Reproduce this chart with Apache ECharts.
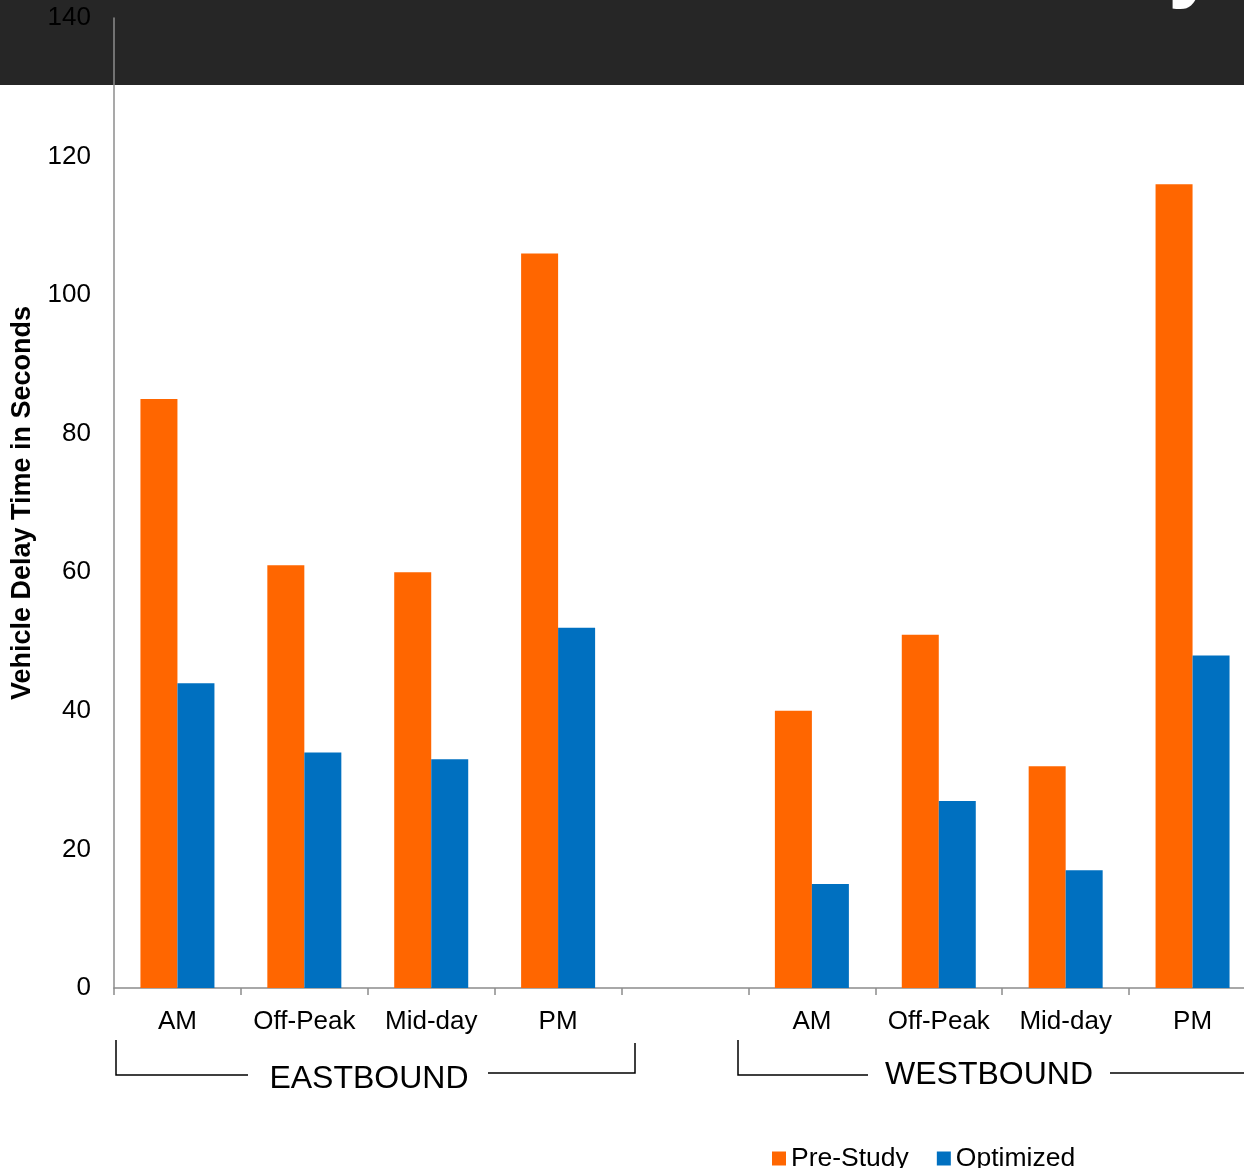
<!DOCTYPE html>
<html>
<head>
<meta charset="utf-8">
<script src="https://cdn.jsdelivr.net/npm/echarts@6/dist/echarts.min.js"></script>
<style>
  html, body { margin: 0; padding: 0; background: #ffffff; }
  #chart { width: 1244px; height: 1168px; }
</style>
</head>
<body>
<div id="chart"></div>
<script>
// Time-of-day periods, eastbound then westbound, with an empty spacer slot between
const periods = ['AM', 'Off-Peak', 'Mid-day', 'PM', '', 'AM', 'Off-Peak', 'Mid-day', 'PM'];
const preStudy = [85, 61, 60, 106, null, 40, 51, 32, 116];
const optimized = [44, 34, 33, 52, null, 15, 27, 17, 48];
const seriesNames = ['Pre-Study', 'Optimized'];
const directions = ['EASTBOUND', 'WESTBOUND'];

const FONT = '"Liberation Sans", Arial, sans-serif';
const chart = echarts.init(document.getElementById('chart'), null, { renderer: 'canvas' });

const bracket = { stroke: '#000000', lineWidth: 1.5 };

chart.setOption({
  animation: false,
  backgroundColor: '#ffffff',
  textStyle: { fontFamily: FONT },
  grid: { left: 114, top: 18, width: 1142, height: 970, containLabel: false, outerBoundsMode: 'none' },
  legend: {
    data: seriesNames,
    left: 767,
    top: 1140,
    itemWidth: 14,
    itemHeight: 14,
    itemGap: 28,
    icon: 'rect',
    textStyle: { fontFamily: FONT, fontSize: 26.5, color: '#000000' }
  },
  xAxis: {
    type: 'category',
    data: periods,
    axisLine: { lineStyle: { color: '#8c8c8c', width: 1.5 } },
    axisTick: { show: true, length: 7, lineStyle: { color: '#8c8c8c', width: 1.5 } },
    axisLabel: { fontFamily: FONT, fontSize: 26, color: '#000000', margin: 21, interval: 0 },
    splitLine: { show: false }
  },
  yAxis: {
    type: 'value',
    min: 0,
    max: 140,
    interval: 20,
    name: 'Vehicle Delay Time in Seconds',
    nameLocation: 'middle',
    nameGap: 78,
    nameTextStyle: { fontFamily: FONT, fontSize: 27, fontWeight: 'bold', color: '#000000' },
    axisLine: { show: true, lineStyle: { color: '#8c8c8c', width: 1.5 } },
    axisTick: { show: false },
    axisLabel: { fontFamily: FONT, fontSize: 26, color: '#000000', margin: 23 },
    splitLine: { show: false }
  },
  series: [
    {
      name: seriesNames[0],
      type: 'bar',
      data: preStudy,
      barWidth: 37,
      barGap: '0%',
      itemStyle: { color: '#ff6600' }
    },
    {
      name: seriesNames[1],
      type: 'bar',
      data: optimized,
      barWidth: 37,
      barGap: '0%',
      itemStyle: { color: '#0070c0' }
    }
  ],
  graphic: [
    // dark header band
    { type: 'rect', z: -10, shape: { x: 0, y: 0, width: 1244, height: 85 }, style: { fill: '#262626' } },
    // descender of the header title glyph
    { type: 'text', z: -5, left: 1168, top: -80, style: { text: 'y', fill: '#ffffff', font: 'bold 90px "Liberation Sans", Arial, sans-serif' } },
    // eastbound bracket
    { type: 'polyline', shape: { points: [[116, 1040], [116, 1075], [248, 1075]] }, style: Object.assign({ fill: null }, bracket) },
    { type: 'polyline', shape: { points: [[488, 1073], [635, 1073], [635, 1043]] }, style: Object.assign({ fill: null }, bracket) },
    { type: 'text', x: 369, y: 1079, style: { text: directions[0], fill: '#000000', font: '32px "Liberation Sans", Arial, sans-serif', align: 'center', verticalAlign: 'middle' } },
    // westbound bracket
    { type: 'polyline', shape: { points: [[738, 1040], [738, 1075], [868, 1075]] }, style: Object.assign({ fill: null }, bracket) },
    { type: 'polyline', shape: { points: [[1110, 1073], [1244, 1073]] }, style: Object.assign({ fill: null }, bracket) },
    { type: 'text', x: 989, y: 1075, style: { text: directions[1], fill: '#000000', font: '32px "Liberation Sans", Arial, sans-serif', align: 'center', verticalAlign: 'middle' } }
  ]
});
</script>
</body>
</html>
